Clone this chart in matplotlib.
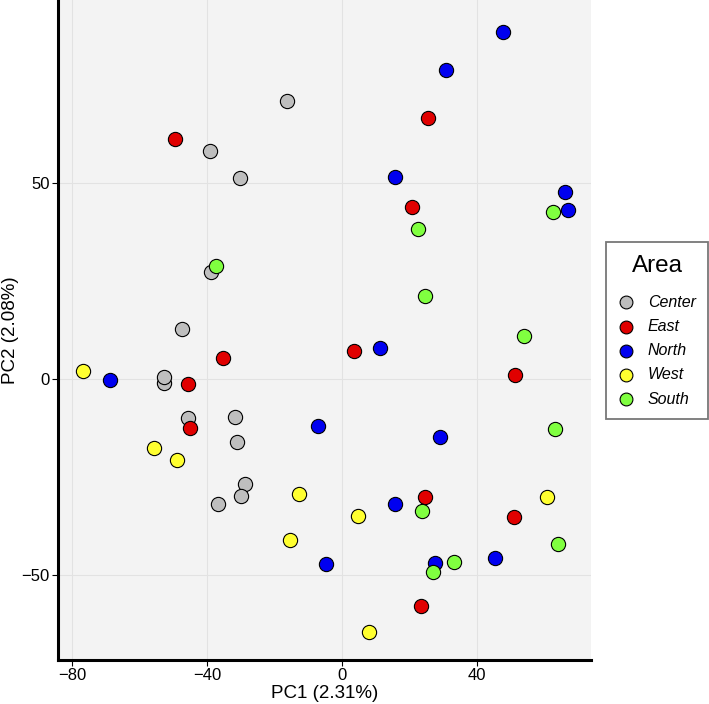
import matplotlib.pyplot as plt

plt.rcParams['font.family'] = ['Liberation Sans', 'DejaVu Sans']

areas = ["Center", "East", "North", "West", "South"]
colors = ["#BEBEBE", "#E00000", "#0000F0", "#FFFF30", "#80FF40"]

center_x = [-16.5, -39.3, -30.3, -38.9, -47.6, -52.7, -52.7, -45.6, -31.7, -31.3, -28.8, -30.1, -36.9]
center_y = [70.8, 58.0, 51.1, 27.3, 12.7, -1.0, 0.5, -10.1, -9.7, -16.1, -26.9, -29.9, -32.1]

east_x = [-49.4, -35.4, 3.5, -45.8, -45.1, 25.5, 20.6, 51.1, 24.6, 50.8, 23.4]
east_y = [61.1, 5.2, 7.1, -1.4, -12.7, 66.4, 43.8, 0.8, -30.3, -35.2, -57.9]

north_x = [47.7, 30.8, 15.6, 66.0, 66.8, 11.2, -68.8, -7.1, -4.7, 28.9, 15.7, 27.4, 45.4]
north_y = [88.5, 78.7, 51.4, 47.5, 43.0, 7.7, -0.3, -12.0, -47.3, -14.9, -32.1, -47.1, -45.8]

west_x = [-76.8, -55.8, -48.8, -12.7, -15.6, 4.7, 8.0, 60.7]
west_y = [1.9, -17.6, -20.7, -29.5, -41.1, -35.0, -64.6, -30.1]

south_x = [-37.5, 62.4, 22.4, 24.4, 53.8, 63.1, 23.7, 63.9, 33.0, 26.9]
south_y = [28.8, 42.6, 38.2, 21.1, 10.9, -12.8, -33.9, -42.1, -46.9, -49.4]

xs = [center_x, east_x, north_x, west_x, south_x]
ys = [center_y, east_y, north_y, west_y, south_y]

fig = plt.figure(figsize=(7.09, 7.04), dpi=100)
ax = fig.add_axes([0.0818, 0.0625, 0.7518, 0.9375])
ax.set_facecolor("#F3F3F3")

for name, c, x, y in zip(areas, colors, xs, ys):
    ax.scatter(x, y, s=105, c=c, edgecolors="black", linewidths=0.8, label=name, zorder=3)

ax.set_xlim(-84.2, 73.7)
ax.set_ylim(-71.8, 96.6)
ax.set_xticks([-80, -40, 0, 40])
ax.set_yticks([-50, 0, 50])
ax.grid(True, color="#E2E2E2", linewidth=0.8)
ax.set_axisbelow(True)

for s in ["top", "right"]:
    ax.spines[s].set_visible(False)
for s in ["left", "bottom"]:
    ax.spines[s].set_linewidth(2.2)
ax.tick_params(labelsize=12, length=4, width=0.8, pad=2, colors="black")

ax.set_xlabel("PC1 (2.31%)", fontsize=13.5, labelpad=1)
ax.set_ylabel("PC2 (2.08%)", fontsize=13.5, labelpad=2)

leg = ax.legend(title="Area", loc="center", bbox_to_anchor=(0.927, 0.53),
                bbox_transform=fig.transFigure, fancybox=False, frameon=True,
                prop={"style": "italic", "size": 11.5}, title_fontsize=17.5,
                markerscale=0.9, handlelength=0.9, handletextpad=0.9,
                labelspacing=0.58, borderpad=0.8)
leg._legend_box.sep = 12.5
leg.get_frame().set_edgecolor("#555555")
leg.get_frame().set_linewidth(1.3)

fig.savefig("out.png", dpi=100)
